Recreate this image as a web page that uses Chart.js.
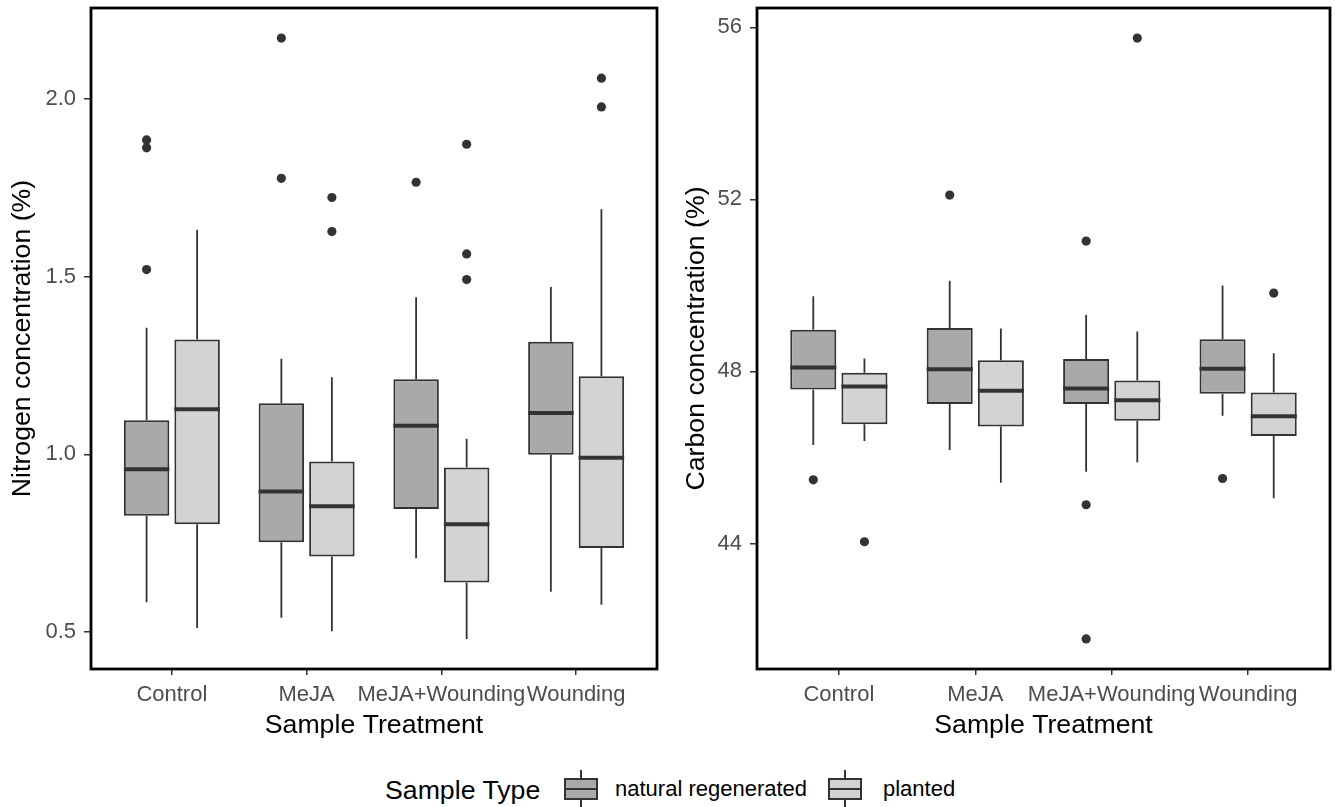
<!DOCTYPE html>
<html lang="en">
<head>
  <meta charset="UTF-8">
  <title>Nitrogen and carbon concentration by treatment</title>
  <script src="https://cdn.jsdelivr.net/npm/chart.js"></script>
  <style>
    * {
      font-family: 'Liberation Sans', Arial, sans-serif;
    }

    html, body {
      width: 1335px;
      height: 807px;
      margin: 0;
      padding: 0;
      background: #fff;
      overflow: hidden;
    }

    #nitrogenChart { position: absolute; left: 0; top: 0; }
    #carbonChart { position: absolute; left: 670px; top: 0; }

    .legend-title {
      position: absolute;
      left: 385px;
      top: 774px;
      font-size: 26.7px;
      line-height: 32px;
      color: #000;
      white-space: nowrap;
    }

    .legend-text {
      position: absolute;
      top: 776px;
      font-size: 22px;
      line-height: 26px;
      color: #000;
      white-space: nowrap;
    }

    .key {
      position: absolute;
      top: 770px;
      width: 34px;
      height: 37px;
    }
    .key .whisker {
      position: absolute;
      left: 16px;
      top: 0;
      width: 2px;
      height: 37px;
      background: #333;
    }
    .key .box {
      position: absolute;
      left: 0;
      top: 8px;
      width: 30px;
      height: 18px;
      border: 2px solid #333;
    }
    .key .median {
      position: absolute;
      left: 0;
      top: 18px;
      width: 34px;
      height: 2px;
      background: #333;
    }
  </style>
</head>
<body>
<canvas id="nitrogenChart" width="670" height="750"></canvas>
<canvas id="carbonChart" width="665" height="750"></canvas>

<div class="legend-title">Sample Type</div>
<div class="key" style="left:564px">
  <div class="whisker"></div><div class="box" style="background:#a9a9a9"></div><div class="median"></div>
</div>
<div class="legend-text" style="left:615px">natural regenerated</div>
<div class="key" style="left:828px">
  <div class="whisker"></div><div class="box" style="background:#d3d3d3"></div><div class="median"></div>
</div>
<div class="legend-text" style="left:883px">planted</div>

<script>
  const categories = ['Control', 'MeJA', 'MeJA+Wounding', 'Wounding'];
  const sampleTypes = ['natural regenerated', 'planted'];

  // [lower whisker, Q1, median, Q3, upper whisker] per treatment
  const nitrogenNatural = [
    [0.583, 0.827, 0.958, 1.096, 1.356],
    [0.540, 0.752, 0.895, 1.144, 1.269],
    [0.707, 0.846, 1.080, 1.211, 1.442],
    [0.613, 0.999, 1.116, 1.317, 1.471]
  ];
  const nitrogenPlanted = [
    [0.511, 0.803, 1.127, 1.323, 1.632],
    [0.502, 0.712, 0.854, 0.980, 1.217],
    [0.480, 0.639, 0.803, 0.963, 1.044],
    [0.576, 0.736, 0.990, 1.220, 1.690]
  ];
  const nitrogenNaturalOutliers = [[1.885, 1.863, 1.520], [2.172, 1.777], [1.766], []];
  const nitrogenPlantedOutliers = [[], [1.723, 1.627], [1.873, 1.564, 1.492], [2.059, 1.978]];

  const carbonNatural = [
    [46.29, 47.58, 48.09, 48.97, 49.75],
    [46.17, 47.24, 48.05, 49.01, 50.11],
    [45.67, 47.24, 47.60, 48.29, 49.31],
    [46.97, 47.48, 48.06, 48.75, 50.00]
  ];
  const carbonPlanted = [
    [46.38, 46.77, 47.65, 47.97, 48.30],
    [45.41, 46.72, 47.55, 48.26, 49.00],
    [45.89, 46.85, 47.33, 47.79, 48.93],
    [45.05, 46.50, 46.96, 47.51, 48.42]
  ];
  const carbonNaturalOutliers = [[45.48], [52.10], [51.03, 44.90, 41.78], [45.51]];
  const carbonPlantedOutliers = [[44.04], [], [55.75], [49.82]];

  const nitrogenTicks = [0.5, 1.0, 1.5, 2.0];
  const carbonTicks = [44, 48, 52, 56];

  Chart.defaults.font.family = "'Liberation Sans', Arial, sans-serif";

  // ggplot style range: data range plus 5% on each side
  function dataRange(groups) {
    const all = groups.flat(2);
    const lo = Math.min(...all);
    const hi = Math.max(...all);
    const pad = (hi - lo) * 0.05;
    return [lo - pad, hi + pad];
  }

  // whiskers, medians, outliers and the panel border
  const boxPlugin = {
    id: 'boxes',
    beforeDatasetsDraw(chart) {
      const ctx = chart.ctx;
      const y = chart.scales.y;
      ctx.save();
      ctx.strokeStyle = '#333';
      ctx.lineWidth = 1.8;
      chart.data.datasets.forEach((ds, di) => {
        chart.getDatasetMeta(di).data.forEach((bar, i) => {
          const s = ds.stats[i];
          ctx.beginPath();
          ctx.moveTo(bar.x, y.getPixelForValue(s[0]));
          ctx.lineTo(bar.x, y.getPixelForValue(s[1]));
          ctx.moveTo(bar.x, y.getPixelForValue(s[3]));
          ctx.lineTo(bar.x, y.getPixelForValue(s[4]));
          ctx.stroke();
        });
      });
      ctx.restore();
    },
    afterDatasetsDraw(chart) {
      const ctx = chart.ctx;
      const y = chart.scales.y;
      ctx.save();
      chart.data.datasets.forEach((ds, di) => {
        chart.getDatasetMeta(di).data.forEach((bar, i) => {
          const s = ds.stats[i];
          const my = y.getPixelForValue(s[2]);
          ctx.strokeStyle = '#333';
          ctx.lineWidth = 4;
          ctx.beginPath();
          ctx.moveTo(bar.x - bar.width / 2, my);
          ctx.lineTo(bar.x + bar.width / 2, my);
          ctx.stroke();

          ctx.fillStyle = '#333';
          ds.outliers[i].forEach(v => {
            ctx.beginPath();
            ctx.arc(bar.x, y.getPixelForValue(v), 4.6, 0, Math.PI * 2);
            ctx.fill();
          });
        });
      });
      const a = chart.chartArea;
      ctx.strokeStyle = '#000';
      ctx.lineWidth = 2.8;
      ctx.strokeRect(a.left, a.top, a.right - a.left, a.bottom - a.top);
      ctx.restore();
    }
  };

  function makePanel(id, yTitle, natural, planted, naturalOut, plantedOut, tickValues, decimals, axisWidth, padRight, titlePad) {
    const range = dataRange([natural, planted, naturalOut, plantedOut]);
    return new Chart(document.getElementById(id), {
      type: 'bar',
      data: {
        datasets: [
          {
            label: sampleTypes[0],
            data: natural.map((s, i) => ({ x: i + 1, y: [s[1], s[3]] })),
            stats: natural,
            outliers: naturalOut,
            backgroundColor: '#a9a9a9',
            borderColor: '#333',
            borderWidth: 2,
            borderSkipped: false,
            categoryPercentage: 0.75,
            barPercentage: 0.9
          },
          {
            label: sampleTypes[1],
            data: planted.map((s, i) => ({ x: i + 1, y: [s[1], s[3]] })),
            stats: planted,
            outliers: plantedOut,
            backgroundColor: '#d3d3d3',
            borderColor: '#333',
            borderWidth: 2,
            borderSkipped: false,
            categoryPercentage: 0.75,
            barPercentage: 0.9
          }
        ]
      },
      options: {
        responsive: false,
        animation: false,
        layout: { padding: { top: 8, right: padRight, left: 0, bottom: 0 } },
        plugins: {
          legend: { display: false },
          tooltip: { enabled: false }
        },
        scales: {
          x: {
            type: 'linear',
            min: 0.4,
            max: 4.6,
            offset: false,
            afterBuildTicks: s => { s.ticks = categories.map((c, i) => ({ value: i + 1 })); },
            afterFit: s => {
              s.height = 81;
              s.paddingLeft = 0;
              s.paddingRight = 0;
            },
            ticks: {
              autoSkip: false,
              maxRotation: 0,
              callback: (v, i) => categories[i],
              font: { size: 22 },
              color: '#4d4d4d',
              padding: 7
            },
            grid: { drawOnChartArea: false, offset: false, color: '#333', lineWidth: 1.5, tickLength: 6 },
            border: { display: false },
            title: {
              display: true,
              text: 'Sample Treatment',
              font: { size: 26.7 },
              color: '#000',
              padding: { top: 0, bottom: 8 }
            }
          },
          y: {
            min: range[0],
            max: range[1],
            afterBuildTicks: s => { s.ticks = tickValues.map(v => ({ value: v })); },
            afterFit: s => {
              s.width = axisWidth;
              s.paddingTop = 0;
              s.paddingBottom = 0;
            },
            ticks: {
              callback: v => v.toFixed(decimals),
              font: { size: 22 },
              color: '#4d4d4d',
              padding: 8
            },
            grid: { drawOnChartArea: false, color: '#333', lineWidth: 1.5, tickLength: 7 },
            border: { display: false },
            title: {
              display: true,
              text: yTitle,
              font: { size: 26.7 },
              color: '#000',
              padding: { top: titlePad, bottom: 0 }
            }
          }
        }
      },
      plugins: [boxPlugin]
    });
  }

  makePanel('nitrogenChart', 'Nitrogen concentration (%)', nitrogenNatural, nitrogenPlanted,
    nitrogenNaturalOutliers, nitrogenPlantedOutliers, nitrogenTicks, 1, 91, 13, 7);
  makePanel('carbonChart', 'Carbon concentration (%)', carbonNatural, carbonPlanted,
    carbonNaturalOutliers, carbonPlantedOutliers, carbonTicks, 0, 87, 5, 11);
</script>
</body>
</html>
